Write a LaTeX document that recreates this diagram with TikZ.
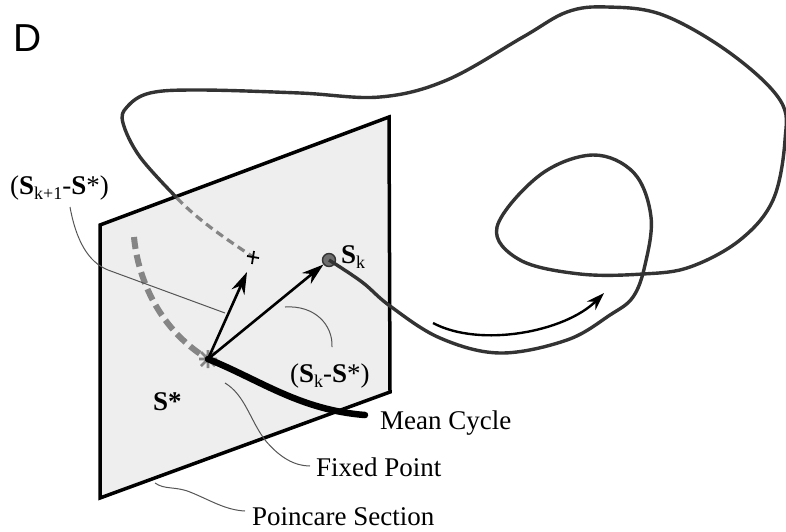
\documentclass[tikz,border=0pt]{standalone}
\usepackage{fontspec}
\setmainfont{Liberation Serif}
\newfontfamily\dfont{Liberation Sans}
\usetikzlibrary{arrows.meta}
\definecolor{planefill}{HTML}{EEEEEE}
\definecolor{trajc}{HTML}{333333}
\definecolor{dashc}{HTML}{858585}
\definecolor{leadc}{HTML}{555555}
\definecolor{dotc}{HTML}{6E6E6E}
\newcommand{\mysub}[1]{\raisebox{-0.4ex}{\fontsize{18}{18}\selectfont #1}}
\tikzset{
  planeedge/.style={draw=black, line width=3.5pt, fill=planefill, line join=miter},
  traj/.style={draw=trajc, line width=3.4pt},
  hidden/.style={draw=dashc, line width=3.2pt, dash pattern=on 8pt off 5pt},
  fixedarc/.style={draw=dashc, line width=6pt, dash pattern=on 12pt off 6pt},
  meancyc/.style={draw=black, line width=6.5pt, line cap=round},
  vec/.style={draw=black, line width=2.6pt, -{Stealth[length=22pt,width=14pt]}},
  leader/.style={draw=leadc, line width=1pt},
  lbl/.style={font=\fontsize{27}{30}\selectfont, inner sep=0pt},
}
\begin{document}
\begin{tikzpicture}[x=1pt,y=-1pt]
\useasboundingbox (0,0) rectangle (786,531);
% panel letter
\node[font=\dfont\fontsize{39}{40}\selectfont, anchor=west, inner sep=0pt] (D) at (13,38) {D};
% plane
\draw[planeedge] (100,225) -- (389,117) -- (390,392) -- (100,498) -- cycle;
% trajectory
\coordinate (enter) at (177,198);
\coordinate (hit) at (253,257);
\node[circle, draw=trajc, fill=dotc, line width=1.4pt, minimum size=13pt, inner sep=0pt] (Sk) at (329,260) {};
\draw[traj] plot[smooth, tension=0.6] coordinates {(Sk.center) (362,282) (390,306) (440,338) (500,353) (567,340) (610,315) (633,297) (645,265) (651,217) (634,173) (593,155) (540,175) (497,227) (520,260) (580,274) (643,274) (690,267) (740,240) (773,200) (785,140) (780,100) (730,53) (663,15) (607,7) (567,12) (523,37) (447,80) (380,97) (300,93) (200,90) (150,93) (127,107) (123,123) (140,157) (enter)};
\draw[hidden] (enter) .. controls (200,222) and (228,240) .. (hit);
\draw[black, line width=1.8pt] (247,256) -- (259,258) (254,251) -- (252,264);
% fixed point arc
\node[inner sep=0pt, minimum size=0pt] (fp) at (208,359) {};
\draw[fixedarc] (134,237) .. controls (138,280) and (160,330) .. (fp.center);
\draw[dashc, line width=2.6pt] (199,359) -- (217,359) (208,350) -- (208,368) (201,352) -- (215,366) (201,366) -- (215,352);
% mean cycle
\draw[meancyc] (fp.center) .. controls (260,380) and (300,410) .. (365,415);
% vectors
\draw[vec] (fp.center) -- (247,272);
\draw[vec] (fp.center) -- (Sk);
% flow arrow
\coordinate (fa1) at (433,323);
\coordinate (fa2) at (604,293);
\draw[black, line width=2.4pt, -{Stealth[length=18pt,width=12pt]}] (fa1) .. controls (480,348) and (565,332) .. (fa2);
% labels
\node[lbl, anchor=west] (lSk1) at (10,188) {(\textbf{S}\mysub{k+1}-\textbf{S}*)};
\node[lbl, anchor=west] (lSk) at (341,257) {\textbf{S}\mysub{k}};
\node[lbl, anchor=west] (lSkS) at (290,376) {(\textbf{S}\mysub{k}-\textbf{S}*)};
\node[lbl, anchor=west] (lSs) at (153,402) {\textbf{S*}};
\node[lbl, anchor=west] (lmc) at (380,423) {Mean Cycle};
\node[lbl, anchor=west] (lfp) at (316,467) {Fixed Point};
\node[lbl, anchor=west] (lps) at (252,517) {Poincare Section};
% leaders
\draw[leader] (70,207) .. controls (76,240) and (88,262) .. (108,270) -- (225,313);
\draw[leader] (285,307) .. controls (315,305) and (333,325) .. (332,347);
\draw[leader] (225,383) .. controls (245,395) and (250,420) .. (265,440) .. controls (280,458) and (295,466) .. (310,466);
\draw[leader] (155,483) .. controls (165,490) and (175,486) .. (190,492) .. controls (210,500) and (225,510) .. (245,511);
\end{tikzpicture}
\end{document}
